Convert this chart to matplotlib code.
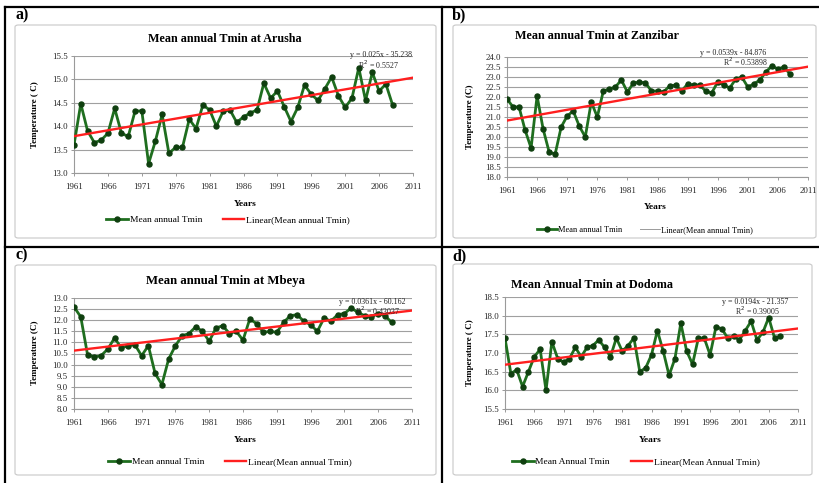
import matplotlib
matplotlib.use('Agg')
import matplotlib.pyplot as plt
from matplotlib.patches import FancyBboxPatch
from matplotlib.lines import Line2D
import numpy as np

plt.rcParams['font.family'] = ['Liberation Serif', 'DejaVu Serif']

# Data
years = list(range(1961, 2009))

arusha = [13.6, 14.48, 13.9, 13.65, 13.7, 13.85, 14.38, 13.85, 13.78, 14.32,
          14.33, 13.2, 13.68, 14.25, 13.42, 13.55, 13.55, 14.15, 13.95, 14.45,
          14.35, 14.0, 14.32, 14.35, 14.08, 14.2, 14.28, 14.35, 14.92, 14.6,
          14.75, 14.42, 14.1, 14.4, 14.88, 14.68, 14.55, 14.8, 15.05, 14.65,
          14.4, 14.6, 15.25, 14.55, 15.15, 14.75, 14.9, 14.45]

zanzibar = [21.9, 21.5, 21.5, 20.35, 19.45, 22.05, 20.4, 19.25, 19.15, 20.5,
            21.05, 21.3, 20.55, 20.0, 21.75, 21.0, 22.3, 22.4, 22.5, 22.85,
            22.25, 22.7, 22.75, 22.7, 22.3, 22.3, 22.25, 22.55, 22.6, 22.3,
            22.65, 22.6, 22.6, 22.3, 22.2, 22.75, 22.6, 22.45, 22.9, 23.0,
            22.5, 22.65, 22.85, 23.25, 23.55, 23.4, 23.5, 23.15]

mbeya = [12.6, 12.15, 10.45, 10.35, 10.4, 10.7, 11.2, 10.75, 10.85, 10.9,
         10.4, 10.85, 9.6, 9.1, 10.25, 10.85, 11.3, 11.4, 11.7, 11.5,
         11.05, 11.65, 11.75, 11.4, 11.5, 11.1, 12.05, 11.85, 11.45, 11.5,
         11.45, 11.9, 12.2, 12.25, 11.95, 11.8, 11.5, 12.1, 11.95, 12.25,
         12.3, 12.55, 12.35, 12.2, 12.15, 12.3, 12.2, 11.9]

dodoma = [17.4, 16.45, 16.55, 16.1, 16.5, 16.9, 17.1, 16.0, 17.3, 16.85,
          16.75, 16.85, 17.15, 16.9, 17.15, 17.2, 17.35, 17.15, 16.9, 17.4,
          17.05, 17.2, 17.4, 16.5, 16.6, 16.95, 17.6, 17.05, 16.4, 16.85,
          17.8, 17.05, 16.7, 17.4, 17.4, 16.95, 17.7, 17.65, 17.4, 17.45,
          17.35, 17.6, 17.85, 17.35, 17.55, 17.95, 17.4, 17.45]

# trend line coefficients as printed on the charts
slopes = [0.025, 0.0539, 0.0361, 0.0194]
intercepts = [-35.238, -84.876, -60.162, -21.357]
r2_values = ['0.5527', '0.53898', '0.43037', '0.39005']

x_ticks = [1961, 1966, 1971, 1976, 1981, 1986, 1991, 1996, 2001, 2006, 2011]

titles = ['Mean annual Tmin at Arusha', 'Mean annual Tmin at Zanzibar',
          'Mean annual Tmin at Mbeya', 'Mean Annual Tmin at Dodoma']
series_labels = ['Mean annual Tmin', 'Mean annual Tmin',
                 'Mean annual Tmin', 'Mean Annual Tmin']
ylabels = ['Temperature ( C)', 'Temperature (C)', 'Temperature (C)', 'Temperature ( C)']
panel_letters = ['a)', 'b)', 'c)', 'd)']
y_limits = [(13.0, 15.5), (18.0, 24.0), (8.0, 13.0), (15.5, 18.5)]
series = [arusha, zanzibar, mbeya, dodoma]

# Layout in pixels of the 819x483 picture
W, H = 819, 483
fig = plt.figure(figsize=(W / 100, H / 100), dpi=100)
fig.patch.set_facecolor('white')


def fx(x):
    return x / W


def fy(y):
    return 1 - y / H


# axes boxes: left, top, right, bottom
axes_px = [(74, 56, 413, 173), (507, 57, 808, 177),
           (74, 298, 412, 409), (505, 297, 798, 409)]
chart_px = [(15, 25, 436, 238), (453, 25, 816, 238),
            (15, 265, 436, 475), (453, 264, 812, 475)]
letter_pos = [(15, 15), (452, 15), (15, 255), (452, 256)]
title_pos = [(225, 39), (597, 36), (225, 281), (592, 285)]
title_size = [8.7, 8.7, 9.2, 8.7]
xlabel_pos = [(245, 204), (655, 207), (245, 440), (650, 440)]
ylabel_pos = [(35, 115), (470, 117), (35, 353), (470, 353)]
eq_pos = [(381, 55), (733, 53), (372, 302), (755, 302)]
r2_pos = [(378, 65), (745, 62), (377, 311), (757, 311)]
legend_pos = [(228, 220), (645, 230), (230, 462), (636, 462)]

green = '#1f6e1f'
marker_green = '#0f3f0f'
red = '#ff1f1f'

for i in range(4):
    # chart area frame (drawn behind the axes)
    l, t, r, b = chart_px[i]
    box = FancyBboxPatch((fx(l), fy(b)), fx(r) - fx(l), fy(t) - fy(b),
                         boxstyle="round,pad=0,rounding_size=0.004",
                         transform=fig.transFigure, facecolor='white',
                         edgecolor='#c8c8c8', linewidth=0.8, zorder=-5)
    fig.add_artist(box)

    l, t, r, b = axes_px[i]
    ax = fig.add_axes([fx(l), fy(b), fx(r) - fx(l), fy(t) - fy(b)])
    ax.set_zorder(2)
    ax.set_facecolor('none')
    ymin, ymax = y_limits[i]

    ax.plot(years, series[i], color=green, linewidth=2.0, marker='o',
            markersize=3.6, markerfacecolor=marker_green,
            markeredgecolor=marker_green, zorder=3, solid_joinstyle='round')
    xs = np.array([1961, 2011])
    ax.plot(xs, slopes[i] * xs + intercepts[i], color=red, linewidth=1.7, zorder=4)

    ax.set_xlim(1961, 2011)
    ax.set_ylim(ymin, ymax)
    ax.set_xticks(x_ticks)
    ticks = np.arange(ymin, ymax + 0.01, 0.5)
    ax.set_yticks(ticks)
    ax.set_yticklabels(['%.1f' % v for v in ticks])
    ax.yaxis.grid(True, color='#a0a0a0', linewidth=0.8)
    ax.set_axisbelow(True)
    for s in ['top', 'right']:
        ax.spines[s].set_visible(False)
    for s in ['left', 'bottom']:
        ax.spines[s].set_color('#9a9a9a')
        ax.spines[s].set_linewidth(0.8)
    ax.tick_params(axis='both', labelsize=6.3, colors='#9a9a9a', labelcolor='#222222',
                   length=2.5, width=0.7)
    ax.tick_params(axis='x', pad=5)
    ax.tick_params(axis='y', pad=2)

    fig.text(fx(letter_pos[i][0]), fy(letter_pos[i][1]), panel_letters[i],
             fontsize=11.5, fontweight='bold', ha='left', va='center')
    fig.text(fx(title_pos[i][0]), fy(title_pos[i][1]), titles[i],
             fontsize=title_size[i], fontweight='bold', ha='center', va='center')
    fig.text(fx(xlabel_pos[i][0]), fy(xlabel_pos[i][1]), 'Years',
             fontsize=6.8, fontweight='bold', ha='center', va='center')
    fig.text(fx(ylabel_pos[i][0]), fy(ylabel_pos[i][1]), ylabels[i],
             fontsize=6.5, fontweight='bold', ha='center', va='center', rotation=90)
    eq = 'y = %gx - %g' % (slopes[i], -intercepts[i])
    fig.text(fx(eq_pos[i][0]), fy(eq_pos[i][1]), eq, fontsize=5.7,
             ha='center', va='center', color='#222222')
    fig.text(fx(r2_pos[i][0]), fy(r2_pos[i][1]), 'R$^2$ = ' + r2_values[i],
             fontsize=5.7, ha='center', va='center', color='#222222')

    # legend
    h1 = Line2D([], [], color=green, linewidth=2.0, marker='o', markersize=3.6,
                markerfacecolor=marker_green, markeredgecolor=marker_green)
    if i == 1:
        h2 = Line2D([], [], color='#9a9a9a', linewidth=0.7)
    else:
        h2 = Line2D([], [], color=red, linewidth=1.7)
    ax.legend([h1, h2], [series_labels[i], 'Linear(' + series_labels[i] + ')'],
              loc='center', bbox_to_anchor=(fx(legend_pos[i][0]), fy(legend_pos[i][1])),
              bbox_transform=fig.transFigure, ncol=2, frameon=False,
              fontsize=6.8 if i != 1 else 6, handlelength=2.3, handletextpad=0.15,
              columnspacing=2.2, numpoints=1)

# black outer frame and dividers
frame_lines = [((5, 819), (7, 7)), ((5, 5), (7, 483)),
               ((442, 442), (7, 483)), ((5, 819), (247, 247))]
for xs_px, ys_px in frame_lines:
    fig.add_artist(Line2D([fx(v) for v in xs_px], [fy(v) for v in ys_px],
                          color='black', linewidth=1.6, transform=fig.transFigure))

plt.savefig('out.png', dpi=100, facecolor='white')
